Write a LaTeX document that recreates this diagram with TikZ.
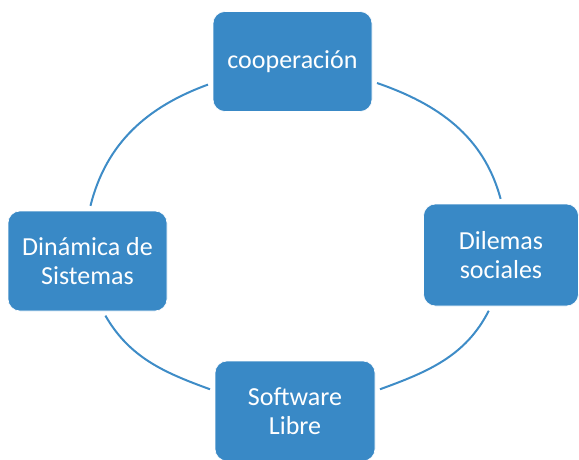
\documentclass[tikz,border=0pt]{standalone}
\usepackage{fontspec}
\setmainfont{Carlito}
\definecolor{boxblue}{RGB}{57,137,198}
\definecolor{arcblue}{RGB}{62,140,199}
\begin{document}
\begin{tikzpicture}[x=1pt,y=1pt,
  cyclebox/.style={rectangle, rounded corners=12pt, fill=boxblue, draw=white, line width=0.6pt,
    text=white, align=center, inner sep=0pt, minimum width=159pt, minimum height=100pt,
    font=\fontsize{26}{29}\selectfont},
  cyclearc/.style={draw=arcblue, line width=2pt, shorten <=5pt, shorten >=5pt}]
\useasboundingbox (0,0) rectangle (579,-460);
\node[cyclebox] (top) at (292.5,-61.5) {cooperación};
\node[cyclebox] (left) at (87.5,-261) {Dinámica de\\Sistemas};
\node[cyclebox, minimum width=155pt, minimum height=102pt] (right) at (501,-255) {Dilemas\\sociales};
\node[cyclebox, minimum width=160pt] (bottom) at (295,-411) {Software\\Libre};
\draw[cyclearc] (top.195) to[out=200, in=76] (left.88);
\draw[cyclearc] (top.-14.5) to[out=-19, in=105] (right.89);
\draw[cyclearc] (left.-73) to[out=-60, in=160] (bottom.166);
\draw[cyclearc] (right.259) to[out=-117, in=20] (bottom.14);
\end{tikzpicture}
\end{document}
